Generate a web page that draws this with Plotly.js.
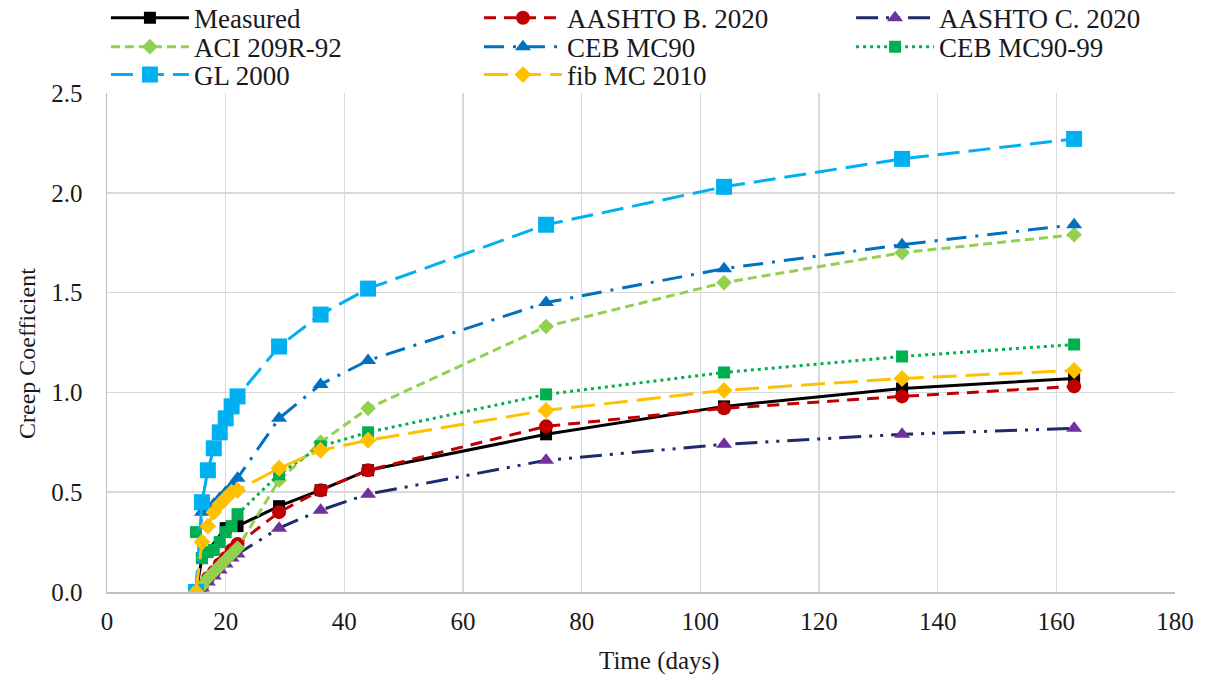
<!DOCTYPE html>
<html>
<head>
<meta charset="utf-8">
<script src="https://cdn.plot.ly/plotly-3.0.1.min.js"></script>
<style>html,body{margin:0;padding:0;background:#fff;}#chart{width:1206px;height:679px;}</style>
</head>
<body>
<div id="chart"></div>
<script>
// Time (days) and creep coefficient values
const measuredT = [15, 16, 20, 22, 29, 36, 44, 74, 104, 134, 163];
const measuredY = [0, 0.17, 0.32, 0.33, 0.43, 0.51, 0.61, 0.79, 0.93, 1.02, 1.07];

const modelT = [15, 16, 17, 18, 19, 20, 21, 22, 29, 36, 44, 74, 104, 134, 163];
const aashtoB = [0, 0.03, 0.07, 0.10, 0.14, 0.17, 0.21, 0.24, 0.40, 0.51, 0.61, 0.83, 0.92, 0.98, 1.03];
const aashtoC = [0, 0.02, 0.05, 0.08, 0.11, 0.14, 0.17, 0.19, 0.32, 0.41, 0.49, 0.66, 0.74, 0.79, 0.82];
const aci = [0, 0.03, 0.07, 0.10, 0.13, 0.16, 0.19, 0.22, 0.56, 0.75, 0.92, 1.33, 1.55, 1.70, 1.79];
const cebMC90 = [0, 0.40, 0.42, 0.44, 0.47, 0.50, 0.53, 0.57, 0.87, 1.04, 1.16, 1.45, 1.62, 1.74, 1.84];
const cebMC9099 = [0.30, 0.17, 0.20, 0.21, 0.25, 0.30, 0.33, 0.39, 0.59, 0.73, 0.80, 0.99, 1.10, 1.18, 1.24];
const gl2000 = [0, 0.45, 0.61, 0.72, 0.80, 0.87, 0.93, 0.98, 1.23, 1.39, 1.52, 1.84, 2.03, 2.17, 2.27];
const fib2010 = [0, 0.25, 0.33, 0.40, 0.44, 0.47, 0.50, 0.51, 0.62, 0.71, 0.76, 0.91, 1.01, 1.07, 1.11];

const seriesNames = ['Measured', 'AASHTO B. 2020', 'AASHTO C. 2020', 'ACI 209R-92', 'CEB MC90', 'CEB MC90-99', 'GL 2000', 'fib MC 2010'];

const xTicks = [0, 20, 40, 60, 80, 100, 120, 140, 160, 180];
const yTicks = [0, 0.5, 1.0, 1.5, 2.0, 2.5];

function tr(i, x, y, lineColor, dash, symbol, mColor, mSize) {
  return {
    type: 'scatter', mode: 'lines+markers', name: seriesNames[i], x: x, y: y,
    legend: i === 0 ? 'legend' : 'legend' + (i + 1),
    line: {color: lineColor, width: 3, dash: dash},
    marker: {symbol: symbol, color: mColor, size: mSize, line: {width: 0}}
  };
}

const data = [
  tr(0, measuredT, measuredY, '#000000', 'solid', 'square', '#000000', 12),
  tr(1, modelT, aashtoB, '#C00000', '12px,8px', 'circle', '#C00000', 14),
  tr(2, modelT, aashtoC, '#1F2A6B', '22px,8px,3px,8px,3px,8px', 'triangle-up', '#7030A0', 14),
  tr(3, modelT, aci, '#92D050', '9px,5px', 'diamond', '#92D050', 12),
  tr(4, modelT, cebMC90, '#0070C0', '20px,9px,3px,9px', 'triangle-up', '#0070C0', 14),
  tr(5, modelT, cebMC9099, '#00B050', '3px,4px', 'square', '#00B050', 12),
  tr(6, modelT, gl2000, '#00B0F0', '22px,9px', 'square', '#00B0F0', 16),
  tr(7, modelT, fib2010, '#FFC000', '24px,9px', 'diamond', '#FFC000', 13)
];

const serif = 'Liberation Serif, serif';
const txt = '#1a1a1a';

function leg(xv, yv) {
  return {
    orientation: 'h', x: xv, xanchor: 'left', y: yv, yanchor: 'middle',
    font: {family: serif, size: 27, color: txt},
    itemwidth: 78, bgcolor: 'rgba(0,0,0,0)', borderwidth: 0
  };
}

const colX = [-0.001, 0.3483, 0.6967];
const rowY = [1.150, 1.092, 1.036];

const layout = {
  width: 1206, height: 679,
  margin: {l: 107, r: 31, t: 93, b: 87, autoexpand: false},
  paper_bgcolor: '#ffffff', plot_bgcolor: '#ffffff',
  font: {family: serif, size: 25, color: txt},
  showlegend: true,
  legend: leg(colX[0], rowY[0]),
  legend2: leg(colX[1], rowY[0]),
  legend3: leg(colX[2], rowY[0]),
  legend4: leg(colX[0], rowY[1]),
  legend5: leg(colX[1], rowY[1]),
  legend6: leg(colX[2], rowY[1]),
  legend7: leg(colX[0], rowY[2]),
  legend8: leg(colX[1], rowY[2]),
  xaxis: {
    range: [0, 180], tickvals: xTicks, ticktext: xTicks.map(String),
    showgrid: true, gridcolor: '#D9D9D9', gridwidth: 1.5,
    showline: true, linecolor: '#BFBFBF', linewidth: 1.5,
    zeroline: false, ticks: '', ticklabelstandoff: 6,
    tickfont: {family: serif, size: 25, color: txt}
  },
  yaxis: {
    range: [0, 2.5], tickvals: yTicks, ticktext: yTicks.map(v => v.toFixed(1)),
    showgrid: true, gridcolor: '#D9D9D9', gridwidth: 1.5,
    showline: true, linecolor: '#BFBFBF', linewidth: 1.5,
    zeroline: false, ticks: '', ticklabelstandoff: 18,
    tickfont: {family: serif, size: 25, color: txt}
  },
  annotations: [
    {text: 'Time (days)', xref: 'paper', yref: 'paper', x: 0.517, y: -0.138,
     xanchor: 'center', yanchor: 'middle', showarrow: false,
     font: {family: serif, size: 25, color: txt}},
    {text: 'Creep Coefficient', xref: 'paper', yref: 'paper', x: -0.0749, y: 0.477,
     xanchor: 'center', yanchor: 'middle', textangle: -90, showarrow: false,
     font: {family: serif, size: 24, color: txt}}
  ]
};

Plotly.newPlot('chart', data, layout, {displayModeBar: false, staticPlot: true});
</script>
</body>
</html>
